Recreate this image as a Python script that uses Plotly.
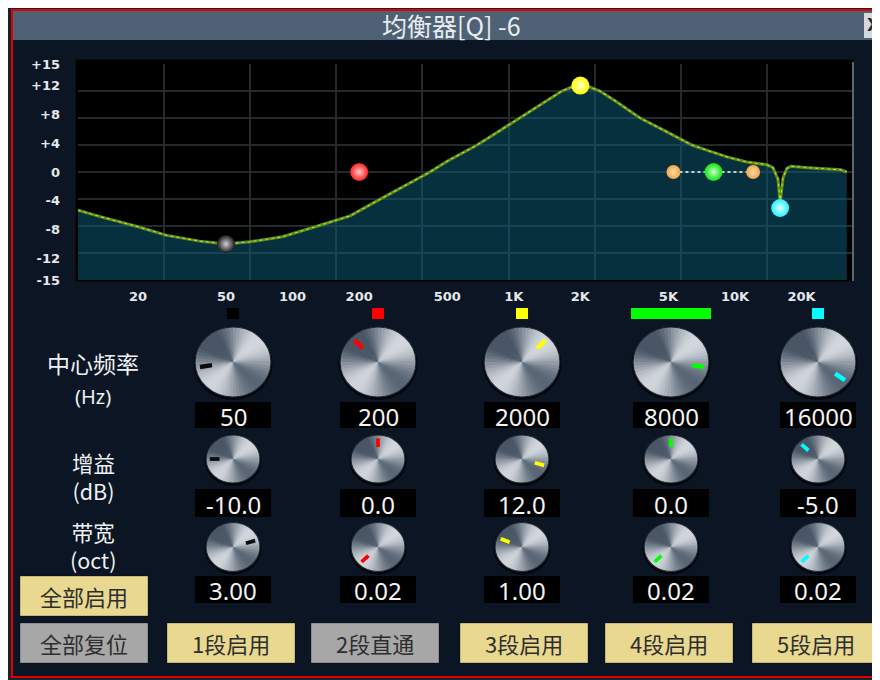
import numpy as np
import plotly.graph_objects as go

W, H = 880, 680
# the page body adds an 8 px margin; reference pixel (x, y) is drawn at figure pixel (x-8, y-8)
OFF = 8

# ---------------- data ----------------
curve_freq = [10.7, 13.5, 20, 27, 38, 50, 64, 90, 130, 182, 248, 350, 418, 500, 683,
              850, 1067, 1350, 1651, 1850, 2000, 2200, 2450, 2900, 3720, 4900, 6380,
              7500, 9200, 11300, 13950, 14850, 15650, 16000, 16490, 17170, 17900,
              21400, 30100, 32000]
curve_gain = [-5.3, -6.2, -7.6, -8.8, -9.6, -10.0, -9.7, -9.0, -7.5, -6.1, -3.8, -1.3,
              0.0, 1.5, 3.75, 5.6, 7.5, 9.5, 11.25, 11.85, 12.0, 11.8, 11.25, 9.8, 7.5,
              5.6, 3.75, 3.0, 2.1, 1.4, 1.0, 0.6, -1.0, -4.3, -0.8, 0.5, 0.8, 0.6, 0.3,
              0.0]

band_freq = [50, 200, 2000, 8000, 16000]
band_gain = [-10.0, 0.0, 12.0, 0.0, -5.0]
band_bw = [3.00, 0.02, 1.00, 0.02, 0.02]
band_color = ['#000000', '#ff0000', '#ffff00', '#00ff00', '#00ffff']
band_point_center = ['#1a1a1a', '#ff2020', '#ffff00', '#10e010', '#28f0ff']
band_point_edge = ['#cfcfcf', '#ffc8c8', '#ffffc8', '#c8ffc8', '#d8ffff']
band_button = ['1段启用', '2段直通', '3段启用', '4段启用', '5段启用']
band_button_on = [True, False, True, True, True]
selected_band = 3
handle_freq = [5270, 12080]
handle_gain = [0.0, 0.0]

x_tick_vals = [20, 50, 100, 200, 500, 1000, 2000, 5000, 10000, 20000]
x_tick_text = ['20', '50', '100', '200', '500', '1K', '2K', '5K', '10K', '20K']
y_tick_vals = [15, 12, 8, 4, 0, -4, -8, -12, -15]
y_tick_text = ['+15', '+12', '+8', '+4', '0', '-4', '-8', '-12', '-15']

title_text = '均衡器[Q] -6'
row_labels = ['增益<br>(dB)', '带宽<br>(oct)']

# knob scales (value -> pointer angle, 270 degree sweep)
FREQ_MIN, FREQ_MAX = 20, 20000
GAIN_MIN, GAIN_MAX = -15, 15
BW_MIN, BW_MAX = 0.02, 3.9

# ---------------- layout geometry (reference pixels) ----------------
PL, PT, PR, PB = 78, 64, 853, 280
col_x = [233, 378, 522, 671, 818]
btn_left = [167, 311, 460, 605, 752]


def X(px):
    return (px - OFF) / W


def Y(py):
    return 1 - (py - OFF) / H


X_LOG_RANGE = [np.log10(band_freq[0]) - (226 - PL) / 221.2,
               np.log10(band_freq[0]) + (PR - 226) / 221.2]
x_grid = [10 ** (X_LOG_RANGE[0] + k * (X_LOG_RANGE[1] - X_LOG_RANGE[0]) / 9) for k in range(10)]
y_grid = [-15 + 3.75 * k for k in range(9)]

shapes = []
ann = []


def rect(x0, y0, x1, y1, fill, line=None, lw=0, layer='below'):
    shapes.append(dict(type='rect', xref='paper', yref='paper', x0=X(x0), x1=X(x1),
                       y0=Y(y1), y1=Y(y0), fillcolor=fill,
                       line=dict(color=line or 'rgba(0,0,0,0)', width=lw), layer=layer))


def text(px, py, s, size, color, family='Noto Sans CJK SC', weight='normal', xanchor='center'):
    ann.append(dict(xref='paper', yref='paper', x=X(px), y=Y(py), text=s, showarrow=False,
                    xanchor=xanchor, yanchor='middle',
                    font=dict(family=family, size=size, color=color, weight=weight)))


# window background
rect(8, 6, 900, 700, '#18222d')
rect(12, 10, 900, 677, '#0b1524', line='#e00000', lw=2)
rect(13, 11, 900, 40, '#4f6175')
rect(864, 13, 900, 38, '#d3d9df')
text(451, 25, title_text, 25, '#e9edf0')
text(865, 25, 'X', 17, '#2a2a2a', family='DejaVu Sans', weight='bold', xanchor='left')

# plot frame
rect(75, 59, 854, 282, '#000000', line='#15191d', lw=1)
shapes.append(dict(type='line', xref='paper', yref='paper', x0=X(853), x1=X(853),
                   y0=Y(281), y1=Y(62), line=dict(color='#6f8a92', width=1.5), layer='above'))


def knob_rgb(theta):
    t = 0.5 + 0.5 * np.cos(np.radians(2 * (theta - 45)))
    t -= 0.12 * np.cos(np.radians(theta - 140))
    t = min(max(t, 0.0), 1.0)
    dark = np.array([72, 86, 102])
    light = np.array([210, 215, 221])
    c = dark + t * (light - dark)
    return 'rgb(%d,%d,%d)' % tuple(int(v) for v in c)


def knob(cx, cy, rx, ry, ang, col, big):
    shapes.append(dict(type='circle', xref='paper', yref='paper', x0=X(cx - rx - 1.5),
                       x1=X(cx + rx + 1.5), y0=Y(cy + ry + 3), y1=Y(cy - ry + 0.5),
                       fillcolor='rgba(0,0,0,0.65)', line=dict(width=0), layer='above'))
    shapes.append(dict(type='circle', xref='paper', yref='paper', x0=X(cx - rx), x1=X(cx + rx),
                       y0=Y(cy + ry), y1=Y(cy - ry), fillcolor='rgb(140,150,160)',
                       line=dict(width=0), layer='above'))
    N = 60
    for k in range(N):
        a0 = 360 * k / N
        a1 = a0 + 360 / N + 1.5
        mid = a0 + 180 / N
        pts = [(cx, cy)] + [(cx + rx * np.cos(np.radians(a)), cy - ry * np.sin(np.radians(a)))
                            for a in (a0, (a0 + a1) / 2, a1)]
        path = 'M ' + ' L '.join('%.5f,%.5f' % (X(px), Y(py)) for px, py in pts) + ' Z'
        shapes.append(dict(type='path', xref='paper', yref='paper', path=path,
                           fillcolor=knob_rgb(mid), line=dict(width=0), layer='above'))
    shapes.append(dict(type='circle', xref='paper', yref='paper', x0=X(cx - rx), x1=X(cx + rx),
                       y0=Y(cy + ry), y1=Y(cy - ry), fillcolor='rgba(0,0,0,0)',
                       line=dict(color='rgba(22,28,36,0.9)', width=1.2), layer='above'))
    r1, r2, w = (0.56, 0.88, 4.5) if big else (0.5, 0.86, 3.8)
    a = np.radians(ang)
    shapes.append(dict(type='line', xref='paper', yref='paper',
                       x0=X(cx + r1 * rx * np.cos(a)), y0=Y(cy - r1 * ry * np.sin(a)),
                       x1=X(cx + r2 * rx * np.cos(a)), y1=Y(cy - r2 * ry * np.sin(a)),
                       line=dict(color=col if col != '#000000' else '#0c0c0c', width=w),
                       layer='above'))


def ang_of(frac):
    return 225 - 270 * frac


for i, cx in enumerate(col_x):
    # band colour tag
    if i == selected_band:
        rect(cx - 40, 308, cx + 40, 319, band_color[i])
    else:
        rect(cx - 6, 308, cx + 6, 319, band_color[i])
    f_frac = (np.log10(band_freq[i]) - np.log10(FREQ_MIN)) / (np.log10(FREQ_MAX) - np.log10(FREQ_MIN))
    g_frac = (band_gain[i] - GAIN_MIN) / (GAIN_MAX - GAIN_MIN)
    b_frac = (band_bw[i] - BW_MIN) / (BW_MAX - BW_MIN)
    knob(cx, 362, 38, 35, ang_of(f_frac), band_color[i], True)
    knob(cx, 459, 27, 24, ang_of(g_frac), band_color[i], False)
    knob(cx, 547, 27, 24.5, ang_of(b_frac), band_color[i], False)
    for (y0, y1), s in zip([(402, 428), (489, 517), (576, 603)],
                           ['%d' % band_freq[i], '%.1f' % band_gain[i], '%.2f' % band_bw[i]]):
        rect(cx - 38, y0, cx + 38, y1, '#000000')
        text(cx, (y0 + y1) / 2 + 1, s, 24, '#f4f4f4', family='Noto Sans')
    # band button
    bl = btn_left[i]
    on = band_button_on[i]
    rect(bl, 623, bl + 128, 663, '#e9d88f' if on else '#a7a7a7', line='rgba(0,0,0,0.3)', lw=1)
    text(bl + 64, 643, band_button[i], 22, '#2e2e2e')

# row labels
text(93, 362.5, '中心频率', 23, '#eef0f2')
text(93, 396, '(Hz)', 20, '#eef0f2', family='Noto Sans')
for s, yc in zip(row_labels, [476, 545]):
    text(93, yc, s, 21.5, '#eef0f2')

rect(20, 576, 148, 616, '#e9d88f', line='rgba(0,0,0,0.3)', lw=1)
text(84, 596, '全部启用', 22, '#2e2e2e')
rect(20, 623, 148, 663, '#a7a7a7', line='rgba(0,0,0,0.3)', lw=1)
text(84, 643, '全部复位', 22, '#2e2e2e')

# ---------------- traces ----------------
fig = go.Figure()
fig.add_trace(go.Scatter(x=curve_freq, y=[-15] * len(curve_freq), mode='lines',
                         line=dict(width=0), hoverinfo='skip'))
fig.add_trace(go.Scatter(x=curve_freq, y=curve_gain, mode='lines', fill='tonexty',
                         fillcolor='rgba(12,92,119,0.52)',
                         line=dict(color='#5c8c1c', width=3), hoverinfo='skip'))
fig.add_trace(go.Scatter(x=curve_freq, y=curve_gain, mode='lines',
                         line=dict(color='#c0d83a', width=1.1, dash='dot'), hoverinfo='skip'))
fig.add_trace(go.Scatter(x=[handle_freq[0], band_freq[selected_band], handle_freq[1]],
                         y=[handle_gain[0], band_gain[selected_band], handle_gain[1]],
                         mode='lines', line=dict(color='#ffffff', width=1.5, dash='dot'),
                         hoverinfo='skip'))
fig.add_trace(go.Scatter(x=handle_freq, y=handle_gain, mode='markers',
                         marker=dict(size=14, color='#f2a444',
                                     gradient=dict(type='radial', color='#ffdcae'),
                                     line=dict(width=0)), hoverinfo='skip'))
fig.add_trace(go.Scatter(x=band_freq, y=band_gain, mode='markers',
                         marker=dict(size=18, color=band_point_center,
                                     gradient=dict(type='radial', color=band_point_edge),
                                     line=dict(width=0)), hoverinfo='skip'))

tickfont = dict(family='DejaVu Sans', size=13, color='#e4e8ea', weight='bold')
fig.update_layout(
    width=W, height=H, margin=dict(l=0, r=0, t=0, b=0, pad=0, autoexpand=False),
    paper_bgcolor='#ffffff', plot_bgcolor='rgba(0,0,0,0)',
    showlegend=False, hovermode=False,
    shapes=shapes, annotations=ann,
    xaxis=dict(type='log', range=X_LOG_RANGE, domain=[X(PL), X(PR)],
               tickvals=x_tick_vals, ticktext=x_tick_text, tickfont=tickfont,
               showgrid=False, zeroline=False, showline=False, ticks='',
               ticklabelstandoff=7, fixedrange=True,
               minor=dict(tickvals=x_grid, showgrid=True, gridcolor='#24292c', gridwidth=1.5, ticks='')),
    yaxis=dict(range=[-15, 15], domain=[Y(PB), Y(PT)],
               tickvals=y_tick_vals, ticktext=y_tick_text, tickfont=tickfont,
               showgrid=False, zeroline=False, showline=False, ticks='',
               ticklabelstandoff=17, fixedrange=True,
               minor=dict(tickvals=y_grid, showgrid=True, gridcolor='#24292c', gridwidth=1.5, ticks='')),
)

fig.write_html('out.html', config={'displayModeBar': False})
